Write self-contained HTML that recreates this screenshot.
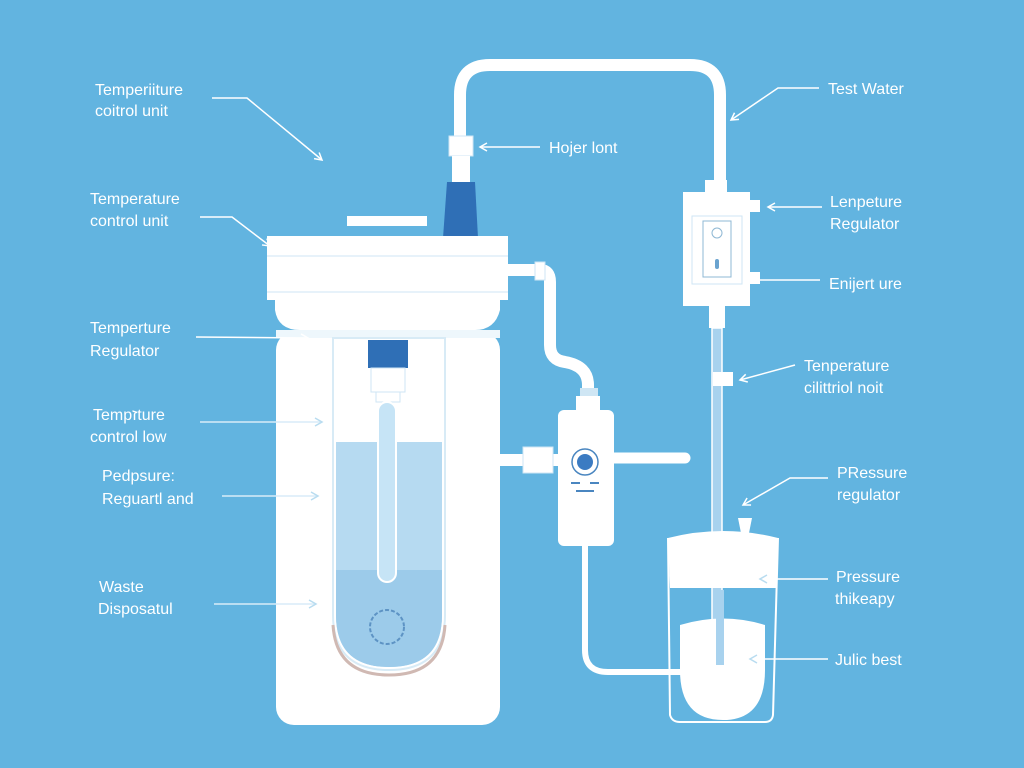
<!DOCTYPE html>
<html><head><meta charset="utf-8"><style>
html,body{margin:0;padding:0;background:#62b4e0;}
svg{display:block}
text{font-family:"Liberation Sans",sans-serif;font-size:16px;fill:#fff;}
</style></head><body>
<svg width="1024" height="768" viewBox="0 0 1024 768" xmlns="http://www.w3.org/2000/svg">
<defs>
<marker id="ah" markerWidth="10" markerHeight="10" refX="8" refY="5" orient="auto" markerUnits="userSpaceOnUse">
<path d="M1,1 L8,5 L1,9" fill="none" stroke="#fff" stroke-width="1.5"/></marker>
<marker id="ah2" markerWidth="10" markerHeight="10" refX="8" refY="5" orient="auto" markerUnits="userSpaceOnUse">
<path d="M1,1 L8,5 L1,9" fill="none" stroke="#b8dcf0" stroke-width="1.5"/></marker>
</defs>
<rect width="1024" height="768" fill="#62b4e0"/>

<!-- top pipe -->
<path d="M460,140 L460,95 Q460,65 490,65 L690,65 Q720,65 720,95 L720,182" fill="none" stroke="#fff" stroke-width="12"/>
<rect x="449" y="136" width="24" height="20" fill="#fff" stroke="#cfe6f4"/>
<rect x="452" y="156" width="18" height="26" fill="#fff"/>
<path d="M447,182 L475,182 L478,238 L443,238 Z" fill="#2f6fb6"/>
<rect x="347" y="216" width="80" height="10" fill="#fff"/>

<!-- lid -->
<rect x="267" y="236" width="241" height="26" fill="#fff"/>
<line x1="267" y1="256" x2="508" y2="256" stroke="#cfe6f4" stroke-width="1"/>
<rect x="267" y="262" width="241" height="38" fill="#fff"/>
<line x1="267" y1="292" x2="508" y2="292" stroke="#cfe6f4" stroke-width="1"/>
<path d="M275,300 L500,300 L500,310 Q495,330 475,330 L300,330 Q278,330 275,310 Z" fill="#fff"/>

<!-- side pipe from lid -->
<path d="M506,270 L540,270 Q550,270 550,282 L550,345 Q550,360 565,362 Q588,366 588,385 L588,400" fill="none" stroke="#fff" stroke-width="12"/>
<rect x="535" y="262" width="10" height="18" fill="#fff" stroke="#cfe6f4"/>
<rect x="580" y="388" width="18" height="8" fill="#cfe6f4"/>
<rect x="576" y="396" width="24" height="16" fill="#fff"/>

<!-- body -->
<rect x="276" y="332" width="224" height="393" rx="18" fill="#fff"/>
<rect x="276" y="330" width="224" height="8" fill="#eef7fc"/>
<path d="M333,338 L445,338 L445,615 Q445,670 389,670 Q333,670 333,615 Z" fill="#fff" stroke="#d8ebf6" stroke-width="2"/>
<path d="M336,442 L442,442 L442,615 Q442,667 389,667 Q336,667 336,615 Z" fill="#b6daf1"/>
<path d="M336,570 L442,570 L442,615 Q442,667 389,667 Q336,667 336,615 Z" fill="#9ccbea"/>
<path d="M333,625 Q336,675 389,675 Q442,675 445,625" fill="none" stroke="#d0b9b3" stroke-width="3"/>
<circle cx="387" cy="627" r="17" fill="none" stroke="#5d93c4" stroke-width="2" stroke-dasharray="4 2"/>
<rect x="368" y="340" width="40" height="28" fill="#2f6fb6"/>
<rect x="371" y="368" width="34" height="24" fill="#fff" stroke="#cfe6f4"/>
<rect x="376" y="392" width="24" height="10" fill="#fff" stroke="#cfe6f4"/>
<rect x="378" y="402" width="18" height="180" rx="9" fill="#c6e4f6" stroke="#fff" stroke-width="2"/>

<!-- controller -->
<path d="M500,460 L558,460" stroke="#fff" stroke-width="12"/>
<rect x="523" y="447" width="30" height="26" fill="#fff" stroke="#cfe6f4"/>
<path d="M614,458 L685,458" stroke="#fff" stroke-width="11" stroke-linecap="round"/>
<path d="M585,545 L585,650 Q585,672 608,672 L685,672" fill="none" stroke="#fff" stroke-width="6"/>
<rect x="558" y="410" width="56" height="136" rx="6" fill="#fff"/>
<circle cx="585" cy="462" r="13" fill="#fff" stroke="#4a86c0" stroke-width="1.5"/>
<circle cx="585" cy="462" r="8" fill="#3b7bc2"/>
<path d="M571,483 h9 M590,483 h9 M576,491 h18" stroke="#4a86c0" stroke-width="2"/>

<!-- right regulator -->
<rect x="705" y="180" width="22" height="12" fill="#fff"/>
<rect x="683" y="192" width="67" height="114" fill="#fff"/>
<rect x="692" y="216" width="50" height="68" fill="none" stroke="#cfe6f4"/>
<rect x="703" y="221" width="28" height="56" fill="#fff" stroke="#8fb8d4"/>
<circle cx="717" cy="233" r="5" fill="none" stroke="#8fb8d4"/>
<rect x="715" y="259" width="4" height="10" rx="2" fill="#6aa3cf"/>
<rect x="750" y="200" width="10" height="12" fill="#fff"/>
<rect x="750" y="272" width="10" height="12" fill="#fff"/>
<rect x="709" y="306" width="16" height="22" fill="#fff"/>
<rect x="712" y="328" width="10" height="338" fill="#a8d2ee" stroke="#fff" stroke-width="1.5"/>
<rect x="713" y="372" width="20" height="14" fill="#fff"/>

<!-- beaker -->
<path d="M668,538 L670,715 Q672,722 680,722 L765,722 Q772,722 773,715 L778,538" fill="none" stroke="#fff" stroke-width="2"/>
<path d="M668,538 Q723,524 778,538 L776,588 L670,588 Z" fill="#fff"/>
<path d="M680,625 Q723,612 765,625 L765,670 Q765,720 723,720 Q680,720 680,670 Z" fill="#fff"/>
<rect x="716" y="590" width="8" height="75" fill="#a8d2ee"/>
<path d="M738,518 L752,518 L749,533 L741,533 Z" fill="#fff"/>

<!-- labels -->
<g fill="none" stroke="#fff" stroke-width="1.5">
<path d="M212,98 L247,98 L322,160" marker-end="url(#ah)"/>
<path d="M200,217 L232,217 L270,246" marker-end="url(#ah)"/>
<path d="M196,337 L308,338" marker-end="url(#ah)"/>
<path d="M200,422 L322,422" marker-end="url(#ah2)" stroke="#d8ecf8"/>
<path d="M222,496 L318,496" marker-end="url(#ah2)" stroke="#d8ecf8"/>
<path d="M214,604 L316,604" marker-end="url(#ah2)" stroke="#d8ecf8"/>
<path d="M540,147 L480,147" marker-end="url(#ah)"/>
<path d="M819,88 L778,88 L731,120" marker-end="url(#ah)"/>
<path d="M822,207 L768,207" marker-end="url(#ah)"/>
<path d="M820,280 L760,280"/>
<path d="M795,365 L740,380" marker-end="url(#ah)"/>
<path d="M828,478 L790,478 L743,505" marker-end="url(#ah)"/>
<path d="M828,579 L760,579" marker-end="url(#ah2)"/>
<path d="M828,659 L750,659" marker-end="url(#ah2)"/>
</g>
<text x="95" y="95">Temperiiture</text>
<text x="95" y="116">coitrol unit</text>
<text x="90" y="204">Temperature</text>
<text x="90" y="226">control unit</text>
<text x="90" y="333">Temperture</text>
<text x="90" y="356">Regulator</text>
<text x="93" y="420">Tempזture</text>
<text x="90" y="442">control low</text>
<text x="102" y="481">Pedpsure:</text>
<text x="102" y="504">Reguartl and</text>
<text x="99" y="592">Waste</text>
<text x="98" y="614">Disposatul</text>
<text x="549" y="153">Hojer lont</text>
<text x="828" y="94">Test Water</text>
<text x="830" y="207">Lenpeture</text>
<text x="830" y="229">Regulator</text>
<text x="829" y="289">Enijert ure</text>
<text x="804" y="371">Tenperature</text>
<text x="804" y="393">cilittriol noit</text>
<text x="837" y="478">PRessure</text>
<text x="837" y="500">regulator</text>
<text x="836" y="582">Pressure</text>
<text x="835" y="604">thikeapy</text>
<text x="835" y="665">Julic best</text>
</svg>
</body></html>
